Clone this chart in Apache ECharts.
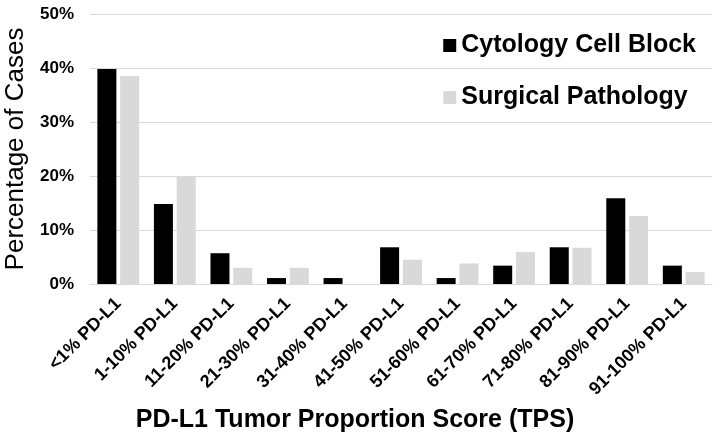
<!DOCTYPE html>
<html>
<head>
<meta charset="utf-8">
<script src="https://cdn.jsdelivr.net/npm/echarts@6/dist/echarts.min.js"></script>
<style>html,body{margin:0;padding:0;background:#fff}#c{width:721px;height:439px}</style>
</head>
<body>
<div id="c"></div>
<script>
const categories = ['<1% PD-L1','1-10% PD-L1','11-20% PD-L1','21-30% PD-L1','31-40% PD-L1','41-50% PD-L1','51-60% PD-L1','61-70% PD-L1','71-80% PD-L1','81-90% PD-L1','91-100% PD-L1'];
const cytology = [39.8, 14.8, 5.7, 1.1, 1.1, 6.8, 1.1, 3.4, 6.8, 15.9, 3.4];
const surgical = [38.5, 20.0, 3.0, 3.0, 0, 4.5, 3.8, 5.9, 6.7, 12.6, 2.2];
const yTicks = [0, 10, 20, 30, 40, 50];

const font = 'Liberation Sans, Arial, sans-serif';
const chart = echarts.init(document.getElementById('c'));
chart.setOption({
  animation: false,
  backgroundColor: '#fff',
  textStyle: { fontFamily: font, color: '#000' },
  grid: { left: 90, right: 9, top: 14, bottom: 155, containLabel: false, outerBoundsMode: 'none' },
  legend: {
    orient: 'vertical',
    right: 20, top: 28,
    itemWidth: 13, itemHeight: 13,
    itemGap: 27,
    icon: 'rect',
    textStyle: { fontFamily: font, fontSize: 25, fontWeight: 'bold', color: '#000', padding: [0,0,0,0] },
    data: ['Cytology Cell Block', 'Surgical Pathology']
  },
  xAxis: {
    type: 'category',
    data: categories,
    axisTick: { show: false },
    axisLine: { lineStyle: { color: '#d9d9d9', width: 1 } },
    axisLabel: { rotate: 45, interval: 0, fontFamily: font, fontSize: 18, fontWeight: 'bold', color: '#000', margin: 17 },
    name: 'PD-L1 Tumor Proportion Score (TPS)',
    nameLocation: 'middle',
    nameGap: 124,
    nameTextStyle: { fontFamily: font, fontSize: 25, fontWeight: 'bold', color: '#000', padding: [0, 92, 0, 0] }
  },
  yAxis: {
    type: 'value',
    min: yTicks[0], max: yTicks[yTicks.length - 1], interval: 10,
    axisLine: { show: false },
    axisTick: { show: false },
    splitLine: { lineStyle: { color: '#d9d9d9', width: 1 } },
    axisLabel: { formatter: '{value}%', fontFamily: font, fontSize: 17, fontWeight: 'bold', color: '#000', margin: 16 },
    name: 'Percentage of Cases',
    nameLocation: 'middle',
    nameGap: 57,
    nameTextStyle: { fontFamily: font, fontSize: 26, color: '#000' }
  },
  series: [
    { name: 'Cytology Cell Block', type: 'bar', data: cytology, barWidth: 19, barGap: '20%', itemStyle: { color: '#000' } },
    { name: 'Surgical Pathology', type: 'bar', data: surgical, barWidth: 19, itemStyle: { color: '#d9d9d9' } }
  ]
});
</script>
</body>
</html>
